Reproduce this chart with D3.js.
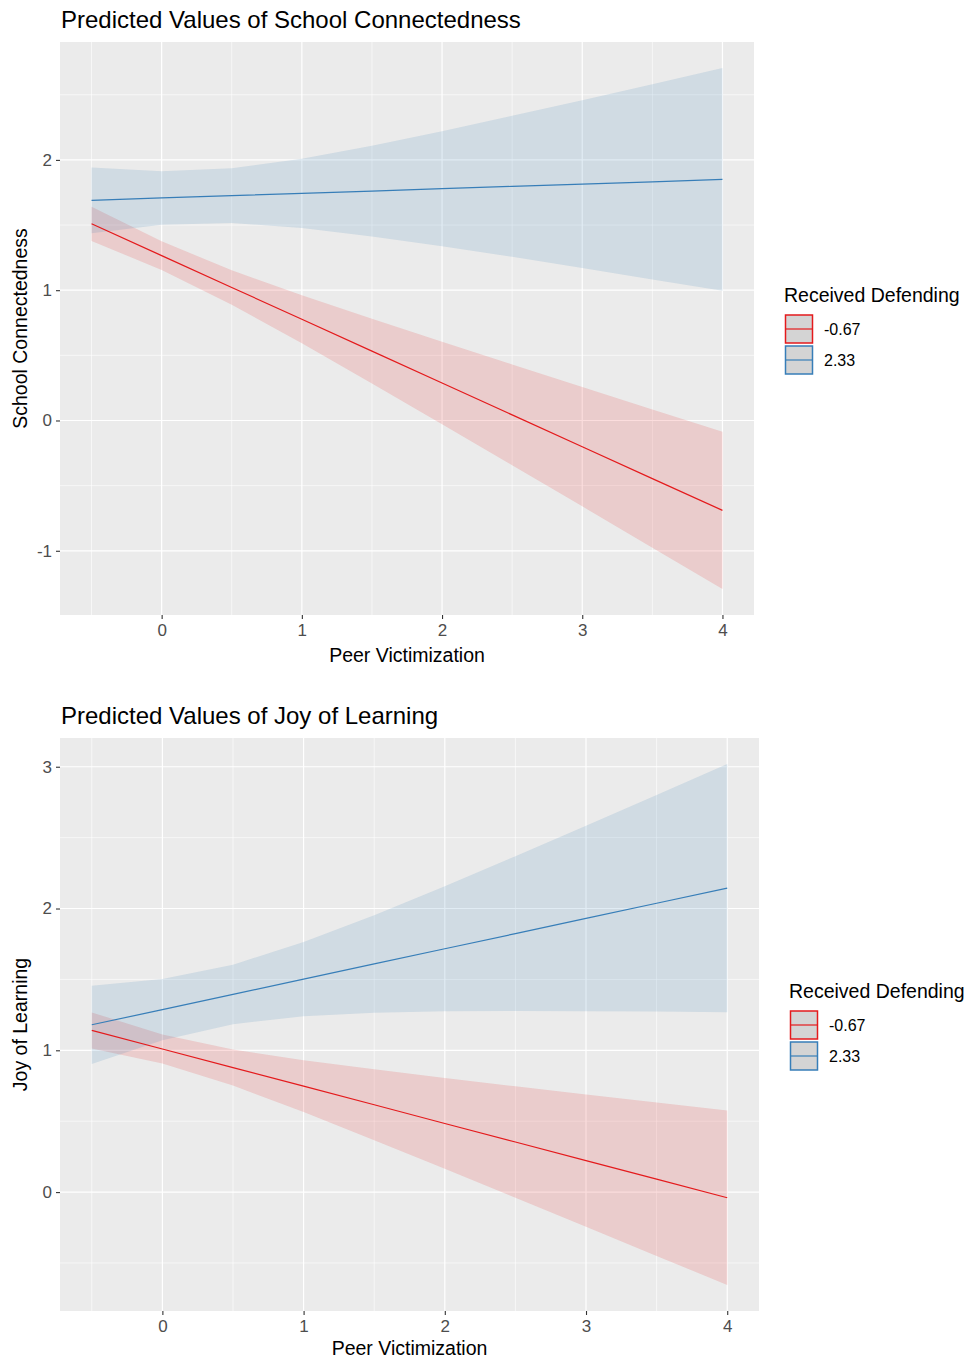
<!DOCTYPE html>
<html>
<head>
<meta charset="utf-8">
<script src="https://cdn.jsdelivr.net/npm/d3@7"></script>
<style>
  body { margin: 0; background: #fff; }
  text { font-family: "Liberation Sans", Arial, sans-serif; }
</style>
</head>
<body>
<svg id="chart" width="972" height="1361"></svg>
<script>
// values
const xVals = [-0.5, 0, 0.5, 1, 1.5, 2, 2.5, 3, 3.5, 4];
const groups = ['-0.67', '2.33'];
const xTicks = [0, 1, 2, 3, 4];

// School Connectedness
const scLowFit = [1.51, 1.265, 1.021, 0.777, 0.532, 0.288, 0.043, -0.201, -0.446, -0.69];
const scLowUpper = [1.64, 1.375, 1.153, 0.961, 0.78, 0.604, 0.43, 0.257, 0.085, -0.087];
const scLowLower = [1.378, 1.155, 0.889, 0.593, 0.284, -0.028, -0.344, -0.659, -0.977, -1.293];
const scHighFit = [1.69, 1.708, 1.726, 1.743, 1.761, 1.779, 1.797, 1.814, 1.832, 1.85];
const scHighUpper = [1.942, 1.913, 1.936, 2.009, 2.109, 2.22, 2.338, 2.458, 2.581, 2.705];
const scHighLower = [1.438, 1.503, 1.516, 1.477, 1.413, 1.338, 1.256, 1.17, 1.083, 0.995];
const scYTicks = [-1, 0, 1, 2];

// Joy of Learning
const jlLowFit = [1.14, 1.009, 0.878, 0.747, 0.616, 0.484, 0.353, 0.222, 0.091, -0.04];
const jlLowUpper = [1.267, 1.111, 1.005, 0.93, 0.866, 0.804, 0.746, 0.688, 0.632, 0.575];
const jlLowLower = [1.013, 0.907, 0.751, 0.564, 0.366, 0.164, -0.04, -0.244, -0.45, -0.655];
const jlHighFit = [1.18, 1.287, 1.394, 1.502, 1.609, 1.716, 1.823, 1.93, 2.037, 2.144];
const jlHighUpper = [1.456, 1.503, 1.604, 1.763, 1.953, 2.157, 2.369, 2.584, 2.801, 3.019];
const jlHighLower = [0.904, 1.071, 1.184, 1.241, 1.265, 1.275, 1.277, 1.276, 1.273, 1.269];
const jlYTicks = [0, 1, 2, 3];

const colors = ['#E41A1C', '#377EB8'];

const svg = d3.select('#chart');

function drawPanel(cfg) {
  const { top, left, width, height, title, yTitle, yTicks, series } = cfg;
  const g = svg.append('g');

  // ggplot style 5% expansion
  const x = d3.scaleLinear()
    .domain([-0.5 - 0.225, 4 + 0.225])
    .range([left, left + width]);
  const allY = series.flatMap(s => s.upper.concat(s.lower));
  const yMin = d3.min(allY), yMax = d3.max(allY);
  const pad = (yMax - yMin) * 0.05;
  const y = d3.scaleLinear()
    .domain([yMin - pad, yMax + pad])
    .range([top + height, top]);

  // panel background
  g.append('rect')
    .attr('x', left).attr('y', top)
    .attr('width', width).attr('height', height)
    .attr('fill', '#EBEBEB');

  // minor grid
  const xMinor = [-0.5, 0.5, 1.5, 2.5, 3.5];
  const yMinor = yTicks.map(t => t + 0.5).concat([yTicks[0] - 0.5])
    .filter(v => v > y.domain()[0] && v < y.domain()[1]);
  g.selectAll('.xminor').data(xMinor).join('line')
    .attr('x1', d => x(d)).attr('x2', d => x(d))
    .attr('y1', top).attr('y2', top + height)
    .attr('stroke', '#fff').attr('stroke-width', 0.6);
  g.selectAll('.yminor').data(yMinor).join('line')
    .attr('x1', left).attr('x2', left + width)
    .attr('y1', d => y(d)).attr('y2', d => y(d))
    .attr('stroke', '#fff').attr('stroke-width', 0.6);

  // major grid
  g.selectAll('.xmajor').data(xTicks).join('line')
    .attr('x1', d => x(d)).attr('x2', d => x(d))
    .attr('y1', top).attr('y2', top + height)
    .attr('stroke', '#fff').attr('stroke-width', 1.2);
  g.selectAll('.ymajor').data(yTicks).join('line')
    .attr('x1', left).attr('x2', left + width)
    .attr('y1', d => y(d)).attr('y2', d => y(d))
    .attr('stroke', '#fff').attr('stroke-width', 1.2);

  const area = d3.area()
    .x((d, i) => x(xVals[i]))
    .y0(d => y(d[0]))
    .y1(d => y(d[1]));
  const line = d3.line()
    .x((d, i) => x(xVals[i]))
    .y(d => y(d));

  // ribbons first, then lines
  series.forEach((s, k) => {
    g.append('path')
      .datum(s.lower.map((v, i) => [v, s.upper[i]]))
      .attr('d', area)
      .attr('fill', colors[k])
      .attr('fill-opacity', 0.15);
  });
  series.forEach((s, k) => {
    g.append('path')
      .datum(s.fit)
      .attr('d', line)
      .attr('fill', 'none')
      .attr('stroke', colors[k])
      .attr('stroke-width', 1.2);
  });

  // axes (plain hyphen for negatives, like R)
  const fmt = d => String(d);
  const xAxis = g.append('g')
    .attr('transform', `translate(0,${top + height})`)
    .call(d3.axisBottom(x).tickValues(xTicks).tickSize(4).tickPadding(5).tickFormat(fmt));
  const yAxis = g.append('g')
    .attr('transform', `translate(${left},0)`)
    .call(d3.axisLeft(y).tickValues(yTicks).tickSize(4).tickPadding(4).tickFormat(fmt));
  [xAxis, yAxis].forEach(a => {
    a.attr('font-size', null);
    a.select('.domain').remove();
    a.selectAll('line').attr('stroke', '#333').attr('stroke-width', 1.1);
    a.selectAll('text')
      .attr('fill', '#4D4D4D')
      .attr('font-size', 17)
      .style('font-size', '17px')
      .style('font-family', '"Liberation Sans", Arial, sans-serif');
  });

  // titles
  g.append('text')
    .attr('x', left + 1).attr('y', top - 14)
    .style('font-size', '24px')
    .attr('fill', '#000')
    .text(title);
  g.append('text')
    .attr('x', left + width / 2).attr('y', top + height + cfg.xTitleOffset)
    .attr('text-anchor', 'middle')
    .style('font-size', '19.5px')
    .text('Peer Victimization');
  g.append('text')
    .attr('transform', `translate(${left - 33},${top + height / 2}) rotate(-90)`)
    .attr('text-anchor', 'middle')
    .style('font-size', '19.5px')
    .text(yTitle);

  // legend
  const lx = cfg.legendX, ly = cfg.legendY;
  const lg = g.append('g').attr('transform', `translate(${lx},${ly})`);
  lg.append('text')
    .attr('x', 0).attr('y', 0)
    .style('font-size', '19.5px')
    .text('Received Defending');
  groups.forEach((name, k) => {
    const ky = 13 + k * 31;
    lg.append('rect')
      .attr('x', 1.5).attr('y', ky)
      .attr('width', 27).attr('height', 28)
      .attr('fill', '#D4D4D4')
      .attr('stroke', colors[k])
      .attr('stroke-width', 1.5);
    lg.append('line')
      .attr('x1', 1.5).attr('x2', 28.5)
      .attr('y1', ky + 14).attr('y2', ky + 14)
      .attr('stroke', colors[k])
      .attr('stroke-width', 1.2);
    lg.append('text')
      .attr('x', 40).attr('y', ky + 14)
      .attr('dy', '0.35em')
      .style('font-size', '16px')
      .text(name);
  });
}

drawPanel({
  top: 42, left: 60, width: 694, height: 573,
  title: 'Predicted Values of School Connectedness',
  yTitle: 'School Connectedness',
  yTicks: scYTicks,
  legendX: 784, legendY: 302,
  xTitleOffset: 47,
  series: [
    { fit: scLowFit, upper: scLowUpper, lower: scLowLower },
    { fit: scHighFit, upper: scHighUpper, lower: scHighLower }
  ]
});

drawPanel({
  top: 738, left: 60, width: 699, height: 573,
  title: 'Predicted Values of Joy of Learning',
  yTitle: 'Joy of Learning',
  yTicks: jlYTicks,
  legendX: 789, legendY: 998,
  xTitleOffset: 44,
  series: [
    { fit: jlLowFit, upper: jlLowUpper, lower: jlLowLower },
    { fit: jlHighFit, upper: jlHighUpper, lower: jlHighLower }
  ]
});
</script>
</body>
</html>
